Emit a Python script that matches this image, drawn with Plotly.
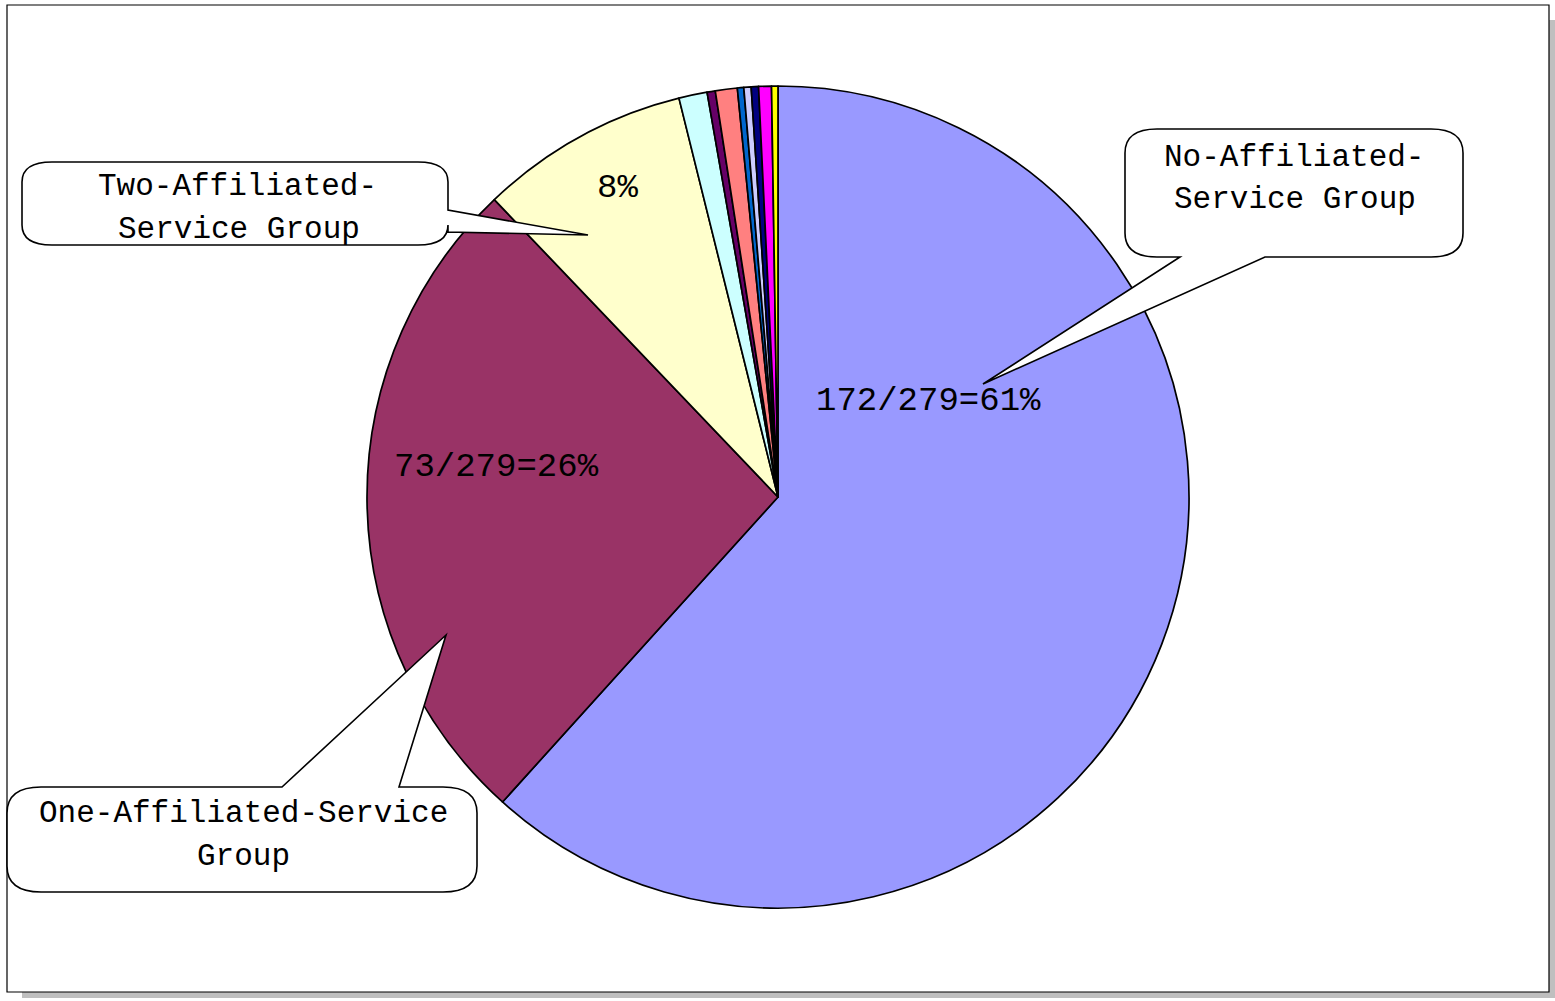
import plotly.graph_objects as go

# ---- data ----
categories = [
    "No-Affiliated-Service Group",
    "One-Affiliated-Service Group",
    "Two-Affiliated-Service Group",
    "Group 4", "Group 5", "Group 6", "Group 7",
    "Group 8", "Group 9", "Group 10", "Group 11",
]
values = [172, 73, 23, 3.1, 0.9, 2.4, 0.7, 0.8, 0.8, 1.4, 0.7]
slice_colors = ["#9999FF", "#993366", "#FFFFCC", "#CCFFFF", "#660066", "#FF8080",
                "#0066CC", "#CCCCFF", "#000080", "#FF00FF", "#FFFF00"]
pie_labels = ["172/279=61%", "73/279=26%", "8%"]
callout_lines = [
    ["No-Affiliated-", "Service Group"],
    ["Two-Affiliated-", "Service Group"],
    ["One-Affiliated-Service", "Group"],
]

W, H = 1555, 1001


def px(x, y):
    return x / W, 1 - y / H


def fmt(x, y):
    a, b = px(x, y)
    return f"{a:.5f},{b:.5f}"


def callout(l, t, r, b, rx, ry, side, p1, p2, tip):
    """Rounded-rect callout path; pointer base on given side between p1 and p2."""
    s = f"M {fmt(l + rx, t)} "
    if side == "top":
        s += f"L {fmt(p1, t)} L {fmt(*tip)} L {fmt(p2, t)} "
    s += f"L {fmt(r - rx, t)} Q {fmt(r, t)} {fmt(r, t + ry)} "
    if side == "right":
        s += f"L {fmt(r, p1)} L {fmt(*tip)} L {fmt(r, p2)} "
    s += f"L {fmt(r, b - ry)} Q {fmt(r, b)} {fmt(r - rx, b)} "
    if side == "bottom":
        s += f"L {fmt(p2, b)} L {fmt(*tip)} L {fmt(p1, b)} "
    s += f"L {fmt(l + rx, b)} Q {fmt(l, b)} {fmt(l, b - ry)} "
    s += f"L {fmt(l, t + ry)} Q {fmt(l, t)} {fmt(l + rx, t)} Z"
    return s


dx0, dy1 = px(367, 86)
dx1, dy0 = px(1189, 908)

fig = go.Figure()
fig.add_trace(go.Pie(
    labels=categories,
    values=values,
    sort=False,
    direction="clockwise",
    rotation=0,
    textinfo="none",
    hoverinfo="label+value",
    marker=dict(colors=slice_colors, line=dict(color="black", width=1.7)),
    domain=dict(x=[dx0, dx1], y=[dy0, dy1]),
    showlegend=False,
))

shapes = []
# shadow and frame
x0, y0 = px(22, 20)
x1, y1 = px(1555, 998)
shapes.append(dict(type="rect", xref="paper", yref="paper", x0=x0, y0=y1, x1=x1, y1=y0,
                   fillcolor="#BFBFBF", line=dict(width=0), layer="below"))
x0, y0 = px(7, 5)
x1, y1 = px(1549, 992)
shapes.append(dict(type="rect", xref="paper", yref="paper", x0=x0, y0=y1, x1=x1, y1=y0,
                   fillcolor="white", line=dict(color="black", width=1.2), layer="below"))

# callouts
callout_paths = [
    callout(1125, 129, 1463, 257, 32, 24, "bottom", 1180, 1265, (983, 384)),
    callout(22, 162, 448, 245, 30, 20, "right", 210, 232, (588, 235)),
    callout(7, 787, 477, 892, 34, 26, "top", 282, 399, (446, 635)),
]
for p in callout_paths:
    shapes.append(dict(type="path", xref="paper", yref="paper", path=p,
                       fillcolor="white", line=dict(color="black", width=1.6), layer="above"))

annotations = []
mono_serif = "Courier New, Nimbus Mono PS, FreeMono, Liberation Mono, monospace"
mono = "Liberation Mono, DejaVu Sans Mono, monospace"

callout_pos = [
    [(1294, 157), (1295, 199)],
    [(237, 186), (239, 229)],
    [(243, 813), (243, 856)],
]
for lines, poss in zip(callout_lines, callout_pos):
    for txt, (x, y) in zip(lines, poss):
        ax, ay = px(x, y)
        annotations.append(dict(x=ax, y=ay, xref="paper", yref="paper", text=txt,
                                showarrow=False, xanchor="center", yanchor="middle",
                                font=dict(family=mono_serif, size=31, color="black")))

label_pos = [(928, 401), (496, 467), (617, 188)]
for txt, (x, y) in zip(pie_labels, label_pos):
    ax, ay = px(x, y)
    annotations.append(dict(x=ax, y=ay, xref="paper", yref="paper", text=txt,
                            showarrow=False, xanchor="center", yanchor="middle",
                            font=dict(family=mono, size=34, color="black")))

fig.update_layout(
    width=W, height=H,
    margin=dict(l=0, r=0, t=0, b=0),
    paper_bgcolor="white",
    plot_bgcolor="white",
    shapes=shapes,
    annotations=annotations,
    showlegend=False,
)

fig.write_html(
    "out.html",
    config={"displayModeBar": False},
    post_script="document.body.style.margin='0';document.documentElement.style.overflow='hidden';",
)
